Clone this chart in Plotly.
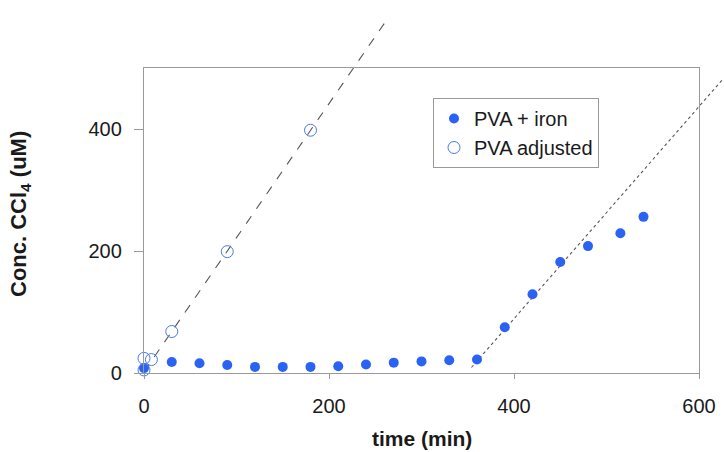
import plotly.graph_objects as go

# PVA + iron (filled markers)
iron_time = [0, 30, 60, 90, 120, 150, 180, 210, 240, 270, 300, 330, 360,
             390, 420, 450, 480, 515, 540]
iron_conc = [8, 18, 16, 13, 10, 10, 10, 11, 14, 17, 19, 21, 22,
             75, 129, 182, 208, 229, 256]

# PVA adjusted (open markers)
adj_time = [0, 0, 8, 30, 90, 180]
adj_conc = [5, 24, 22, 68, 199, 398]

# trend lines (they run past the frame in the original)
adj_fit_time = [0, 262]
adj_fit_conc = [2, 578]
iron_fit_time = [354, 626]
iron_fit_conc = [9, 482]

x_ticks = [0, 200, 400, 600]
y_ticks = [0, 200, 400]

W, H = 724, 452
FONT = "Liberation Sans, Arial, sans-serif"
INK = "#1a1a1a"
AXIS = "#9a9a9a"
BLUE = "#2a62f4"

# frame of the visible chart, in pixels
left, right, top, bottom = 144, 699, 68, 373
x_range = [0, 600]
y_range = [0, 500]
x_dom = [left / W, right / W]
y_dom = [(H - bottom) / H, (H - top) / H]


def full_range(rng, dom):
    # range of an axis that spans the whole figure but keeps the frame's scale
    span = (rng[1] - rng[0]) / (dom[1] - dom[0])
    return [rng[0] - dom[0] * span, rng[0] + (1 - dom[0]) * span]


fig = go.Figure()

# lines live on a full-figure subplot so they are not clipped to the frame
fig.add_trace(go.Scatter(
    x=adj_fit_time, y=adj_fit_conc, mode="lines", showlegend=False,
    line=dict(color="#555555", width=1.1, dash="dash"),
    xaxis="x", yaxis="y", hoverinfo="skip",
))
fig.add_trace(go.Scatter(
    x=iron_fit_time, y=iron_fit_conc, mode="lines", showlegend=False,
    line=dict(color="#555555", width=1.1, dash="dot"),
    xaxis="x", yaxis="y", hoverinfo="skip",
))

fig.add_trace(go.Scatter(
    x=iron_time, y=iron_conc, mode="markers", name="PVA + iron",
    marker=dict(symbol="circle", size=10, color=BLUE),
    xaxis="x2", yaxis="y2", cliponaxis=False,
))
fig.add_trace(go.Scatter(
    x=adj_time, y=adj_conc, mode="markers", name="PVA adjusted",
    marker=dict(symbol="circle-open", size=12, color="#4a78e8",
                line=dict(width=1)),
    xaxis="x2", yaxis="y2", cliponaxis=False,
))

hidden = dict(visible=False, showgrid=False, zeroline=False,
              fixedrange=True, automargin=False)

fig.update_layout(
    template="none",
    width=W, height=H,
    margin=dict(l=0, r=0, t=0, b=0, autoexpand=False),
    paper_bgcolor="white",
    plot_bgcolor="rgba(0,0,0,0)",
    font=dict(family=FONT, color=INK, size=18),
    xaxis=dict(domain=[0, 1], range=full_range(x_range, x_dom), anchor="y", **hidden),
    yaxis=dict(domain=[0, 1], range=full_range(y_range, y_dom), anchor="x", **hidden),
    xaxis2=dict(
        domain=x_dom, range=x_range, anchor="y2", automargin=False,
        showgrid=False, zeroline=False,
        showline=True, linecolor=AXIS, linewidth=1.3, mirror=True,
        ticks="outside", ticklen=5, tickwidth=1, tickcolor=AXIS,
        tickvals=x_ticks, ticklabelstandoff=10,
        tickfont=dict(size=20, color=INK),
    ),
    yaxis2=dict(
        domain=y_dom, range=y_range, anchor="x2", automargin=False,
        showgrid=False, zeroline=False,
        showline=True, linecolor=AXIS, linewidth=1.3, mirror=True,
        ticks="outside", ticklen=9, tickwidth=1, tickcolor=AXIS,
        tickvals=y_ticks, ticklabelstandoff=8,
        tickfont=dict(size=20, color=INK),
    ),
    legend=dict(
        x=433 / W, y=1 - 98 / H, xanchor="left", yanchor="top",
        bordercolor="#9a9a9a", borderwidth=1, bgcolor="white",
        font=dict(size=20, color=INK),
        itemwidth=30, tracegroupgap=0,
    ),
    annotations=[
        dict(text="<b>time (min)</b>", x=(left + right) / 2 / W, y=1 - 438 / H,
             xref="paper", yref="paper", showarrow=False,
             font=dict(size=21, color=INK), xanchor="center", yanchor="middle"),
        dict(text="<b>Conc. CCl<sub>4</sub> (uM)</b>", x=20 / W, y=1 - 214 / H,
             xref="paper", yref="paper", showarrow=False, textangle=-90,
             font=dict(size=22, color=INK), xanchor="center", yanchor="middle"),
    ],
)

fig.write_html(
    "out.html",
    config={"displayModeBar": False},
    post_script="document.body.style.margin='0';document.body.style.overflow='hidden';",
)
